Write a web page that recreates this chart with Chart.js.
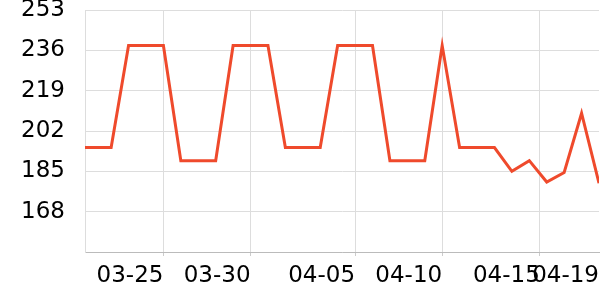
<!DOCTYPE html>
<html lang="en">
  <head>
    <meta charset="UTF-8" />
    <script src="https://cdn.jsdelivr.net/npm/chart.js@4.4.0/dist/chart.umd.min.js"></script>
    <title>Daily values</title>
    <style>
      body {
        margin: 0;
        padding: 0;
        background: #fff;
      }

      .container {
        width: 600px;
        height: 300px;
      }
    </style>
  </head>
  <body>
    <div class="container">
      <canvas id="chart"></canvas>
    </div>
    <script>
      const days = ['03-20','03-21','03-22','03-23','03-24','03-25','03-26','03-27','03-28','03-29','03-30','03-31',
        '04-01','04-02','04-03','04-04','04-05','04-06','04-07','04-08','04-09','04-10','04-11','04-12','04-13',
        '04-14','04-15','04-16','04-17','04-18','04-19']
      const values = [195,195,195,238,238,238,189.5,189.5,189.5,238,238,238,195,195,195,238,238,238,
        189.5,189.5,189.5,238,195,195,195,185,189.5,180.5,184.5,209.5,180]
      const tickLabels = ['03-25','03-30','04-05','04-10','04-15','04-19']
      const tickPos = [5, 10, 16, 21, 26.6, 30]
      const yTicks = [151, 168, 185, 202, 219, 236, 253]

      const font = { family: 'DejaVu Sans', size: 23 }
      const lastTick = (ctx) => ctx.tick && ctx.tick.value === 30

      new Chart(document.getElementById('chart'), {
        type: 'line',
        data: {
          datasets: [
            {
              data: values.map((v, i) => ({ x: i, y: v })),
              borderColor: '#ef4a2c',
              borderWidth: 3,
              pointRadius: 0,
              tension: 0,
              fill: false,
            },
          ],
        },
        options: {
          animation: false,
          responsive: true,
          maintainAspectRatio: false,
          layout: { padding: { top: 10, right: 1, left: 0, bottom: 0 } },
          plugins: {
            legend: { display: false },
            tooltip: { enabled: false },
          },
          scales: {
            x: {
              type: 'linear',
              min: 0.5,
              max: 30,
              afterBuildTicks: (scale) => {
                scale.ticks = tickPos.map((v) => ({ value: v }))
              },
              afterFit: (scale) => {
                scale.height = 48
                scale.paddingLeft = 0
                scale.paddingRight = 0
              },
              ticks: {
                align: 'end',
                autoSkip: false,
                maxRotation: 0,
                padding: 6,
                color: '#000',
                font: font,
                callback: (value, index) => tickLabels[index],
              },
              grid: {
                color: (ctx) => (lastTick(ctx) ? 'rgba(0,0,0,0)' : '#dddddd'),
                tickLength: 4,
                tickColor: (ctx) => (lastTick(ctx) ? 'rgba(0,0,0,0)' : '#cccccc'),
              },
              border: { color: '#bbbbbb' },
            },
            y: {
              min: 151,
              max: 253,
              afterBuildTicks: (scale) => {
                scale.ticks = yTicks.map((v) => ({ value: v }))
              },
              afterFit: (scale) => {
                scale.width = 85
                scale.paddingTop = 0
                scale.paddingBottom = 0
              },
              ticks: {
                padding: 20,
                color: '#000',
                font: font,
                callback: (value) => (value === 151 ? '' : value),
              },
              grid: {
                color: '#dddddd',
                drawTicks: false,
              },
              border: { color: '#dddddd' },
            },
          },
        },
      })
    </script>
  </body>
</html>
